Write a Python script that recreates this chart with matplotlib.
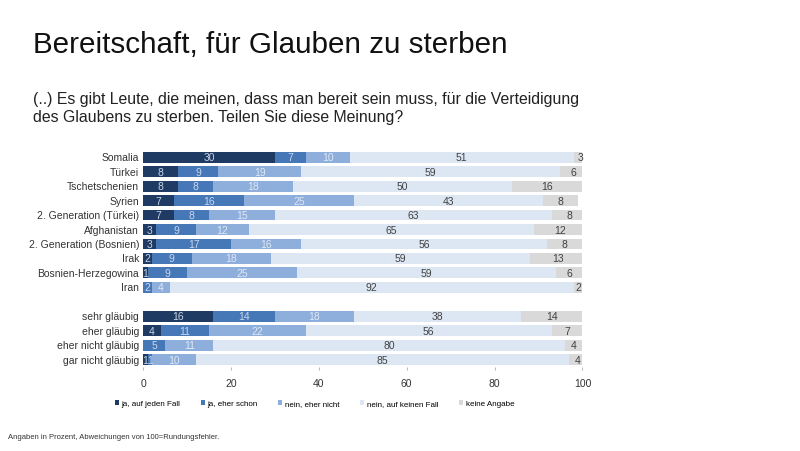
import matplotlib.pyplot as plt
from matplotlib.patches import Patch
import numpy as np

labels = ["Somalia", "Türkei", "Tschetschenien", "Syrien", "2. Generation (Türkei)",
          "Afghanistan", "2. Generation (Bosnien)", "Irak", "Bosnien-Herzegowina", "Iran",
          "",
          "sehr gläubig", "eher gläubig", "eher nicht gläubig", "gar nicht gläubig"]

ja_jeden_fall = [30, 8, 8, 7, 7, 3, 3, 2, 1, 0, 0, 16, 4, 0, 1]
ja_eher_schon = [7, 9, 8, 16, 8, 9, 17, 9, 9, 2, 0, 14, 11, 5, 1]
nein_eher_nicht = [10, 19, 18, 25, 15, 12, 16, 18, 25, 4, 0, 18, 22, 11, 10]
nein_keinen_fall = [51, 59, 50, 43, 63, 65, 56, 59, 59, 92, 0, 38, 56, 80, 85]
keine_angabe = [3, 6, 16, 8, 8, 12, 8, 13, 6, 2, 0, 14, 7, 4, 4]

series = [ja_jeden_fall, ja_eher_schon, nein_eher_nicht, nein_keinen_fall, keine_angabe]
names = ["ja, auf jeden Fall", "ja, eher schon", "nein, eher nicht",
         "nein, auf keinen Fall", "keine Angabe"]
colors = ["#1f3a63", "#4677b6", "#8eaedb", "#dde7f3", "#d9d9d9"]
text_colors = ["#c8d4e6", "#c8d8ee", "#dfe8f5", "#404040", "#404040"]

plt.rcParams['font.family'] = ['Liberation Sans', 'DejaVu Sans']

fig = plt.figure(figsize=(8, 4.52), dpi=100)
ax = fig.add_axes([0.179, 0.186, 0.549, 0.48])

y = np.arange(len(labels))
left = np.zeros(len(labels))
for vals, col, tcol in zip(series, colors, text_colors):
    vals = np.array(vals, dtype=float)
    ax.barh(y, vals, left=left, height=0.75, color=col, edgecolor='none')
    for yi, (l, v) in enumerate(zip(left, vals)):
        if v > 0:
            ax.text(l + v / 2, yi, f"{int(v)}", ha='center', va='center',
                    fontsize=7.5, color=tcol)
    left += vals

ax.set_ylim(len(labels) - 0.5, -0.5)
ax.set_xlim(0, 100)
ax.set_yticks(y)
ax.set_yticklabels(labels, fontsize=7.5, color='#333333', va='center')
ax.set_xticks([0, 20, 40, 60, 80, 100])
ax.tick_params(axis='x', labelsize=7.5, length=2, color='#bbbbbb', labelcolor='#333333', pad=6)
ax.tick_params(axis='y', length=0, pad=3)
for s in ax.spines.values():
    s.set_visible(False)

handles = [Patch(facecolor=c, edgecolor='none', label=n) for c, n in zip(colors, names)]
fig.legend(handles=handles, loc='center', bbox_to_anchor=(0.393, 0.105), ncol=5,
           fontsize=5.8, frameon=False, handlelength=0.5, handleheight=0.5,
           handletextpad=0.3, columnspacing=2.6)

fig.text(0.041, 0.9, "Bereitschaft, für Glauben zu sterben", fontsize=21.3, color='#111111', va='center')
fig.text(0.041, 0.76, "(..) Es gibt Leute, die meinen, dass man bereit sein muss, für die Verteidigung\n"
         "des Glaubens zu sterben. Teilen Sie diese Meinung?", fontsize=11.4, color='#222222',
         va='center', linespacing=1.3)
fig.text(0.01, 0.033, "Angaben in Prozent, Abweichungen von 100=Rundungsfehler.", fontsize=5.5,
         color='#333333', va='center')

fig.savefig("out.png", dpi=100)
